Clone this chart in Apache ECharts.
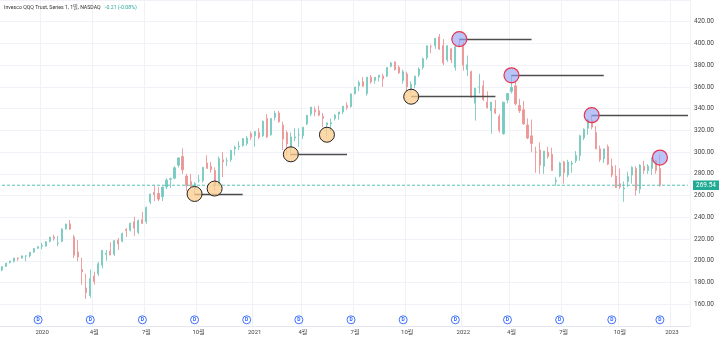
<!DOCTYPE html>
<html><head><meta charset="utf-8">
<script src="https://cdn.jsdelivr.net/npm/echarts@6/dist/echarts.min.js"></script>
<style>html,body{margin:0;padding:0;background:#fff}#c{width:720px;height:338px}</style>
</head><body><div id="c"></div>
<script>
// weekly categories (Monday of each week), first week and count incl. empty right margin
const firstWeekUTC = Date.UTC(2019, 9, 21);
const weekCount = 172;

// weekly candles [open, high, low, close] starting week of 2019-10-21
const ohlc = [
[191.5,195,190.5,194.5],[195,198,194.5,197.8],[198.5,200,197.5,199.8],[199.5,202.5,198.5,202.5],[202.5,203,200,202],
[202.5,205,202,204.5],[204.5,205,199.5,204.5],[204.5,208,203,207.8],[208,211.5,207.5,211.3],[211.5,213.5,211,213],
[213.5,216.5,210.5,214.2],[213.5,218,213,217.5],[218,222,217,221.8],[222,224,218.5,220.5],[216,223,213.5,216.4],
[218,230,217,229.2],[229.5,234,228.5,233.9],[234,237.5,228.5,229.2],[222,224,202.5,205.1],[208,219,199.5,203.5],
[192,203,178,190],[175,188,164.9,170.7],[168,192,166,183.5],[186,190,178,181],[188,199,186,197.3],
[196,210,193,209.6],[206,210,200,207],[209,217,205,205.5],[206,219,204.5,218.5],[219,221,210,215.6],
[218,226,217,225.1],[229,230,222,228],[228,235,227,234.6],[236,240.5,223,230],[226,238,224.5,237],
[238,245,234,234.4],[236,250,234,249],[254,262,252,261.3],[263,269.8,255,260.8],[262,268,255,256.7],
[259,268,255,267.9],[268,276,266,274.2],[275,276.5,267,275.5],[276,287,275,285.6],[288,294,286,294.7],
[296,303.5,280,283.7],[278,280,264,269.4],[273,280,268,268.7],[266,272.5,260.5,271],[274,279,272,274],
[274,286,272,286],[290,297,285,285],[287,291,281,284],[283,286,264.5,269.4],[271,296,270,294],
[293,300,277,291],[292,295,287,292],[293,302,291,301.6],[303,306,297,304.6],[305,310,302,305.6],
[306,313,305,312.6],[308,315,306,313],[317,319,311,313.7],[315,319,305,319],[318,322,312,313.7],
[315,329,314,328.5],[331,335,313,314],[316,331,315,331],[332,338,329,335.7],[336,338,327,328],
[325,328,302,312],[318,320,297,307.5],[304,318,296.5,314],[313,322,310,314],[316,322,305,316],
[315,323,312,323],[326,334,325,334],[335,341,333,341.5],[339,342,333,337],[338,342.8,333,334],
[333,336,323,331],[325,327,315,327],[326,331,319,327],[331,335,329,334],[335,337,330,337],
[337,342,335,342.3],[343,346,339,341],[342,354,341,353.6],[354,360,353,360],[361,366,356,364],
[365,369,360,360.7],[354,369,352,369],[369,371,363,364.6],[366,369,363,368.9],[369,371,365,370.7],
[370,372,360,367.5],[370,378,369,377.9],[379,383,378,382],[383,383.5,375,376],[378,380,372,373],
[366,376,363,374],[372,374,356,360],[357,365,354,362.5],[362,370,359,370],[371,378,369,376.5],
[378,387,376,386],[387,398,385,397.9],[397,399,391,397],[398,405,395,404.6],[406,408.7,394,395],
[398,404,380,382],[385,398,383,398],[395,396,382,385],[378,399,375,397],[399,404.5,397,397.9],
[399,401.5,375,380],[376,389,370,380.5],[374,375,350,350.8],[345,359,329,359],[360,372,354,360],
[361,366,347,348.5],[346,356,340,341],[338,345,317,346],[340,348,335,336],[333,335,318,320],
[317,346,316,346],[348,354,345,354],[356,371,354,359.6],[361,366,343,344.5],[343,349,336,338],
[339,347,325,326],[325,331,312,313],[315,330,300,308],[300,305,281,300],[302,309,280,288],
[287,301,280,301],[300,305,294,296],[298,304,283,283],[273,277,269,274],[278,291,277,290],
[291,292,271,281],[279,293,277,291],[289,292,281,290],[292,301,290,297],[297,316,292,315],
[313,322,311,321],[322,330,316,330],[329,334.3,321,323],[318,324,303,303],[303,306,291,293],
[294,303,290,303],[305,307,288,289],[287,294,277,279],[278,288,267,267.3],[271,285,266,268],
[266,273,254.3,267],[273,282,268,277.5],[279,287,271,286],[285,287,260,265],[266,289,262,288],
[287,292,280,283],[283,289,280,287],[285,295,279,293],[292,293,280,283],[285,298,268,269.54]
];

// quarter tick labels
const tickDates  = ['2019-12-30','2020-03-30','2020-06-29','2020-09-28','2021-01-04','2021-03-29','2021-06-28','2021-09-27','2022-01-03','2022-03-28','2022-06-27','2022-10-03','2023-01-02'];
const tickLabels = ['2020','4월','7월','10월','2021','4월','7월','10월','2022','4월','7월','10월','2023'];

// dividend markers
const divDates = ['2019-12-23','2020-03-23','2020-06-22','2020-09-21','2020-12-21','2021-03-22','2021-06-21','2021-09-20','2021-12-20','2022-03-21','2022-06-20','2022-09-19','2022-12-12'];

// support circles (orange) and their horizontal levels
const supportDates  = ['2020-09-21','2020-10-26','2021-03-08','2021-05-10','2021-10-04'];
const supportPrices = [261.5, 266.5, 298, 316, 351];
const supportEnds   = ['2020-12-14', null, '2021-06-14', null, '2022-02-28'];

// resistance circles (blue) and their horizontal levels
const resistDates  = ['2021-12-27','2022-03-28','2022-08-15','2022-12-12'];
const resistPrices = [404, 370.7, 334, 295];
const resistEnds   = ['2022-05-02','2022-09-05','2023-01-30', null];

const titleMain = 'Invesco QQQ Trust, Series 1, 1일, NASDAQ';
const titleChange = '-0.21 (-0.08%)';

const weeks = [];
for (let i = 0; i < weekCount; i++) weeks.push(new Date(firstWeekUTC + i * 7 * 864e5).toISOString().slice(0, 10));
const candleData = ohlc.map(d => [d[0], d[3], d[2], d[1]]);
const lastClose = ohlc[ohlc.length - 1][3];
const tickSet = new Set(tickDates);
const tickFn = (idx, val) => tickSet.has(val);

const FONT = 'Roboto, "Noto Sans CJK KR", sans-serif';
function levelLines(dates, prices, ends) {
  const out = [];
  dates.forEach((d, i) => { if (ends[i]) out.push([{coord: [d, prices[i]]}, {coord: [ends[i], prices[i]]}]); });
  return out;
}

const chart = echarts.init(document.getElementById('c'), null, {renderer: 'canvas'});
chart.setOption({
  animation: false,
  backgroundColor: '#ffffff',
  title: [
    {left: 4, top: 5, padding: 0, text: titleMain, textStyle: {fontSize: 5.2, fontWeight: 'normal', color: '#333', fontFamily: FONT}},
    {left: 105, top: 5, padding: 0, text: titleChange, textStyle: {fontSize: 5.2, fontWeight: 'normal', color: '#26a69a', fontFamily: FONT}}
  ],
  grid: {left: 0, right: 30, top: 0, bottom: 12},
  xAxis: {
    type: 'category', data: weeks, boundaryGap: true,
    axisLine: {show: true, lineStyle: {color: '#e3e6ee', width: 1}},
    axisTick: {show: false},
    axisLabel: {interval: tickFn, formatter: v => tickLabels[tickDates.indexOf(v)] || '', fontSize: 6, color: '#444', margin: 3, fontFamily: FONT},
    splitLine: {show: true, interval: tickFn, lineStyle: {color: '#f0f2f7', width: 1}}
  },
  yAxis: [{
    type: 'value', position: 'right', min: 140, max: 440, interval: 20,
    axisLine: {show: false}, axisTick: {show: false},
    axisLabel: {fontSize: 6.5, color: '#444', margin: 4, fontFamily: FONT,
      formatter: v => (v <= 140 || v >= 440) ? '' : v.toFixed(2)},
    splitLine: {show: true, lineStyle: {color: '#f0f2f7', width: 1}}
  }, {
    type: 'value', min: 0, max: 100, show: false
  }],
  series: [{
    type: 'candlestick', data: candleData, barWidth: 1.6,
    itemStyle: {color: '#78c9bf', color0: '#ec9696', borderColor: '#78c9bf', borderColor0: '#ec9696', borderWidth: 0.9}
  }, {
    // last price line across the chart
    type: 'line', z: 3, symbol: 'none', silent: true,
    data: [[weeks[0], lastClose], [weeks[weekCount - 1], lastClose]],
    lineStyle: {color: '#52c2b4', type: [3, 2], width: 1},
    itemStyle: {color: '#52c2b4'},
    endLabel: {show: true, formatter: () => lastClose.toFixed(2), distance: 5,
               backgroundColor: '#22ab94', color: '#fff', fontSize: 6.5, padding: [2, 3, 1, 3], fontFamily: FONT}
  }, {
    // horizontal levels
    type: 'line', data: [], z: 4, color: '#4d4d4d',
    markLine: {
      symbol: ['none', 'none'], silent: true, animation: false,
      lineStyle: {color: '#4d4d4d', type: 'solid', width: 1.4},
      label: {show: false},
      data: [...levelLines(supportDates, supportPrices, supportEnds), ...levelLines(resistDates, resistPrices, resistEnds)]
    }
  }, {
    type: 'scatter', z: 5, symbolSize: 15,
    data: supportDates.map((d, i) => [d, supportPrices[i]]),
    itemStyle: {color: 'rgba(252,203,140,0.75)', borderColor: '#222', borderWidth: 1, opacity: 1}
  }, {
    type: 'scatter', z: 5, symbolSize: 15,
    data: resistDates.map((d, i) => [d, resistPrices[i]]),
    itemStyle: {color: 'rgba(150,165,245,0.65)', borderColor: '#e8344e', borderWidth: 1.2, opacity: 1}
  }, {
    type: 'scatter', yAxisIndex: 1, z: 6, symbolSize: 8,
    data: divDates.map(d => [d, 1.9]),
    itemStyle: {color: '#fff', borderColor: '#2962ff', borderWidth: 0.9, opacity: 1},
    label: {show: true, formatter: 'D', position: 'inside', color: '#2962ff', fontSize: 5, fontWeight: 'bold', fontFamily: FONT}
  }]
});
</script></body></html>
